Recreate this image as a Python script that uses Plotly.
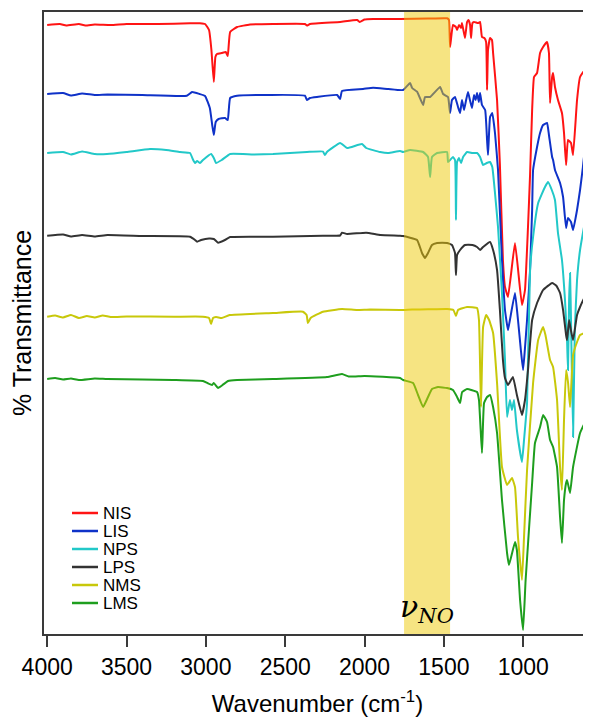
import plotly.graph_objects as go

# ---------------- data ----------------
names = ["NIS", "LIS", "NPS", "LPS", "NMS", "LMS"]
colors = ["#ff1414", "#0f32c8", "#22c8c8", "#333333", "#c8c80a", "#1e9e1e"]

nis_wn = [4000, 3920, 3880, 3800, 3760, 3700, 3600, 3500, 3300, 3100, 3037, 3005, 2980, 2965, 2950, 2940, 2930, 2900, 2875, 2862, 2847, 2803, 2722, 2577, 2376, 2363, 2344, 2154, 2047, 2030, 2000, 1946, 1776, 1600, 1480, 1468, 1461, 1443, 1424, 1417, 1405, 1392, 1386, 1367, 1354, 1345, 1335, 1329, 1320, 1310, 1285, 1272, 1260, 1245, 1234, 1228, 1222, 1209, 1197, 1190, 1165, 1147, 1128, 1115, 1096, 1052, 1008, 989, 970, 957, 944, 932, 913, 894, 875, 850, 838, 831, 818, 812, 800, 781, 756, 743, 730, 718, 699, 686, 661, 642, 611, 592, 573]
nis_t = [609, 610, 608.5, 610, 608.5, 609.5, 609, 610, 610, 610.7, 610.7, 610, 604, 584, 552, 577, 580, 581, 582, 578, 602, 607, 609.5, 610, 610, 608.5, 610, 612, 614, 612, 614.5, 615, 615, 615.5, 615.7, 614, 587, 609, 607, 604, 609, 606, 611, 596, 612, 614, 609, 596, 611, 612, 611, 612, 597, 596, 592, 544, 584, 596, 594, 581, 534, 469, 374, 347, 337, 391, 329, 344, 407, 459, 524, 557, 561, 581, 587, 592, 581, 531, 557, 561, 547, 534, 521, 501, 469, 494, 491, 479, 534, 557, 564, 562, 557]

lis_wn = [4000, 3900, 3850, 3780, 3700, 3620, 3400, 3120, 3087, 3040, 3005, 2975, 2960, 2950, 2938, 2920, 2880, 2862, 2847, 2803, 2376, 2363, 2344, 2300, 2173, 2154, 2142, 2009, 1946, 1850, 1757, 1713, 1700, 1669, 1631, 1619, 1587, 1524, 1505, 1474, 1461, 1449, 1430, 1411, 1398, 1386, 1373, 1360, 1348, 1336, 1323, 1310, 1300, 1291, 1280, 1272, 1260, 1240, 1228, 1222, 1209, 1195, 1178, 1159, 1134, 1115, 1096, 1084, 1052, 1033, 1015, 1001, 990, 976, 957, 944, 938, 913, 894, 875, 850, 838, 818, 812, 800, 768, 749, 730, 718, 699, 686, 661, 642, 624, 611, 598, 573]
lis_t = [540, 541, 538.5, 540.5, 539, 539.5, 539, 538.3, 542, 540, 538, 526, 509, 499, 512, 515, 516, 514, 536, 538.3, 538.3, 534, 536, 537, 539, 535, 543, 545, 546.3, 545, 544, 551, 546, 542.3, 529, 537, 537, 547, 540, 537, 521, 534, 537, 527, 521, 534, 524, 534, 542, 534, 526, 539, 534, 541, 532, 541, 529, 524, 494, 479, 517, 521, 501, 464, 374, 324, 304, 314, 341, 314, 284, 264, 284, 314, 364, 424, 464, 487, 501, 509, 511, 499, 477, 474, 464, 451, 437, 406, 416, 412, 404, 424, 444, 467, 484, 486, 479]

nps_wn = [4000, 3900, 3850, 3780, 3700, 3623, 3500, 3352, 3250, 3163, 3100, 3080, 3068, 3055, 3037, 3018, 2967, 2950, 2936, 2900, 2847, 2700, 2577, 2363, 2262, 2250, 2237, 2154, 2110, 2016, 1990, 1902, 1850, 1776, 1757, 1713, 1631, 1600, 1587, 1575, 1543, 1480, 1474, 1461, 1443, 1430, 1424, 1417, 1405, 1392, 1379, 1354, 1320, 1291, 1272, 1253, 1230, 1209, 1195, 1178, 1159, 1134, 1115, 1102, 1084, 1071, 1058, 1040, 1008, 995, 976, 957, 938, 906, 863, 844, 820, 800, 781, 756, 737, 724, 718, 711, 705, 699, 686, 675, 661, 642, 611, 573]
nps_t = [481, 482, 479.5, 482.5, 480, 480, 482, 485, 484, 482, 481, 474, 471, 473, 471, 474, 480, 476, 471, 474, 480, 479.5, 480, 482, 482.5, 479, 482, 491, 486, 490, 486, 482, 481, 483, 482, 484, 482, 477, 457, 477, 481, 482, 472, 474, 477, 474, 414, 472, 476, 471, 477, 482, 481, 481, 477, 469, 471, 472, 467, 441, 407, 341, 274, 217, 234, 224, 234, 204, 172, 194, 231, 364, 397, 431, 447, 452, 444, 434, 401, 374, 334, 294, 264, 334, 361, 314, 197, 304, 354, 384, 411, 421]

lps_wn = [4000, 3900, 3850, 3780, 3700, 3620, 3400, 3100, 3068, 3055, 3030, 2980, 2950, 2923, 2880, 2847, 2577, 2262, 2154, 2142, 2110, 1990, 1900, 1776, 1757, 1669, 1638, 1619, 1600, 1575, 1543, 1480, 1449, 1430, 1424, 1417, 1398, 1367, 1320, 1291, 1272, 1253, 1209, 1190, 1165, 1147, 1128, 1115, 1096, 1065, 1040, 1008, 989, 970, 944, 913, 875, 818, 790, 768, 749, 730, 724, 711, 700, 686, 661, 642, 611, 573]
lps_t = [398.3, 399.5, 397.5, 399, 397.5, 399, 398, 397.3, 394, 392.3, 394, 395.5, 395, 391.3, 394, 397, 397.3, 398.3, 398.5, 401.3, 400, 401.3, 399, 398.3, 398, 394, 381, 376, 381, 389, 391, 391, 389, 381, 359, 379, 384, 389, 389, 387, 384, 387, 392, 384, 364, 324, 274, 256, 249, 257, 239, 219, 234, 264, 314, 331, 344, 351, 348, 341, 324, 299, 294, 314, 304, 294, 319, 327, 337, 341]

nms_wn = [4000, 3950, 3900, 3850, 3800, 3750, 3700, 3650, 3600, 3500, 3200, 3018, 2980, 2967, 2955, 2936, 2900, 2850, 2577, 2388, 2365, 2357, 2340, 2262, 2142, 2047, 1965, 1776, 1700, 1600, 1480, 1440, 1424, 1411, 1354, 1291, 1279, 1266, 1253, 1234, 1215, 1190, 1165, 1134, 1102, 1071, 1052, 1033, 1008, 995, 976, 938, 906, 875, 860, 831, 812, 787, 768, 756, 743, 730, 718, 705, 686, 661, 642, 611, 573]
nms_t = [317.3, 318.5, 316.5, 319, 316, 318, 316.5, 318.5, 317, 317.5, 317.3, 317.3, 316, 310, 316, 317, 316, 319, 321, 322.3, 319, 311, 316, 322.3, 325, 324, 324.5, 324, 324.5, 324.7, 325, 324, 318, 324, 327, 326, 314, 227, 307, 319, 314, 301, 251, 167, 149, 156, 147, 97, 54, 97, 164, 251, 294, 307, 299, 274, 267, 234, 167, 144, 214, 264, 252, 227, 279, 292, 299, 301, 297]

lms_wn = [4000, 3950, 3900, 3850, 3800, 3700, 3623, 3400, 3207, 3018, 2990, 2961, 2950, 2923, 2895, 2860, 2803, 2577, 2237, 2142, 2100, 2000, 1776, 1757, 1694, 1663, 1631, 1600, 1575, 1537, 1480, 1443, 1420, 1398, 1385, 1354, 1291, 1279, 1260, 1247, 1228, 1209, 1190, 1165, 1134, 1102, 1090, 1052, 1040, 1020, 1001, 985, 944, 926, 894, 875, 850, 831, 812, 787, 768, 756, 743, 730, 724, 705, 686, 642, 611, 592, 573]
lms_t = [255, 256, 254.5, 255.5, 254, 255.5, 255, 254.5, 254, 253, 251, 249, 251, 246, 249, 253, 254, 255, 257, 260, 257.5, 258, 256, 254, 251, 239, 227, 237, 245, 247, 246, 244, 238, 231, 242, 245, 242, 234, 181, 231, 237, 239, 227, 201, 134, 81, 69, 92, 84, 34, 4, 54, 151, 191, 207, 219, 212, 194, 187, 167, 117, 91, 134, 151, 154, 141, 167, 201, 211, 201, 194]

series_wn = [nis_wn, lis_wn, nps_wn, lps_wn, nms_wn, lms_wn]
series_t = [nis_t, lis_t, nps_t, lps_t, nms_t, lms_t]

tick_vals = [4000, 3500, 3000, 2500, 2000, 1500, 1000]
band_wn = [1751, 1461]          # highlighted nu(NO) region

for a, b in zip(series_wn, series_t):
    assert len(a) == len(b), (len(a), len(b))

# ---------------- layout constants ----------------
BODY = 8                        # default page margin of the html body
PAGE_W, PAGE_H = 591, 717
PLOT_L, PLOT_R, PLOT_T, PLOT_B = 44, 591, 12, 634   # plot area in page pixels
W, H = PAGE_W - BODY, PAGE_H - BODY
ML, MT = PLOT_L - BODY, PLOT_T - BODY
MR = PAGE_W - PLOT_R
MB = PAGE_H - PLOT_B
PW, PH = PLOT_R - PLOT_L, PLOT_B - PLOT_T
FONT = "Liberation Sans, Arial, Helvetica, sans-serif"
AX = "#3a3a3a"

fig = go.Figure()
for nm, col, xs, ys in zip(names, colors, series_wn, series_t):
    fig.add_trace(go.Scatter(x=xs, y=ys, mode="lines", name=nm,
                             line=dict(color=col, width=2, shape="spline", smoothing=0.35),
                             showlegend=False, hoverinfo="skip"))

# highlighted band (semi-transparent, on top of traces)
fig.add_shape(type="rect", xref="x", yref="paper", x0=band_wn[0], x1=band_wn[1],
              y0=0, y1=1, fillcolor="rgba(238,202,5,0.5)", line=dict(width=0), layer="above")

fig.add_annotation(x=(band_wn[0] + band_wn[1]) / 2, y=0, xref="x", yref="paper",
                   text="<i>ν<sub>NO</sub></i>", showarrow=False,
                   xanchor="center", yanchor="bottom", yshift=4,
                   font=dict(family="DejaVu Serif, Liberation Serif, serif", size=30, color="black"))

# manual legend
leg_x0, leg_x1, leg_tx = 72, 98, 101
leg_py0, leg_step = 513, 18.0
for i, (nm, col) in enumerate(zip(names, colors)):
    py = leg_py0 + i * leg_step
    yp = (PLOT_B - py) / PH
    fig.add_shape(type="line", xref="paper", yref="paper",
                  x0=(leg_x0 - PLOT_L) / PW, x1=(leg_x1 - PLOT_L) / PW, y0=yp, y1=yp,
                  line=dict(color=col, width=2.5))
    fig.add_annotation(x=(leg_tx - PLOT_L) / PW, y=yp, xref="paper", yref="paper",
                       text=nm, showarrow=False, xanchor="left", yanchor="middle",
                       font=dict(family=FONT, size=17, color="black"))

fig.update_layout(
    width=W, height=H,
    margin=dict(l=ML, r=MR, t=MT, b=MB, pad=0),
    paper_bgcolor="white", plot_bgcolor="white",
    font=dict(family=FONT, color="black"),
    xaxis=dict(range=[4020, 573], tickvals=tick_vals,
               ticktext=[str(v) for v in tick_vals],
               showgrid=False, zeroline=False, showline=True, linecolor=AX, linewidth=2,
               mirror=True, ticks="outside", ticklen=11, tickwidth=1.5, tickcolor=AX,
               tickfont=dict(family=FONT, size=23, color="black"),
               title=dict(text="Wavenumber (cm<sup>-1</sup>)", standoff=18,
                          font=dict(family=FONT, size=24, color="black")),
               automargin=False),
    yaxis=dict(range=[0, 622], showgrid=False, zeroline=False, showline=True,
               linecolor=AX, linewidth=2, ticks="", showticklabels=False,
               title=dict(text="% Transmittance", standoff=4,
                          font=dict(family=FONT, size=25, color="black")),
               automargin=False),
)

fig.write_html("out.html")
